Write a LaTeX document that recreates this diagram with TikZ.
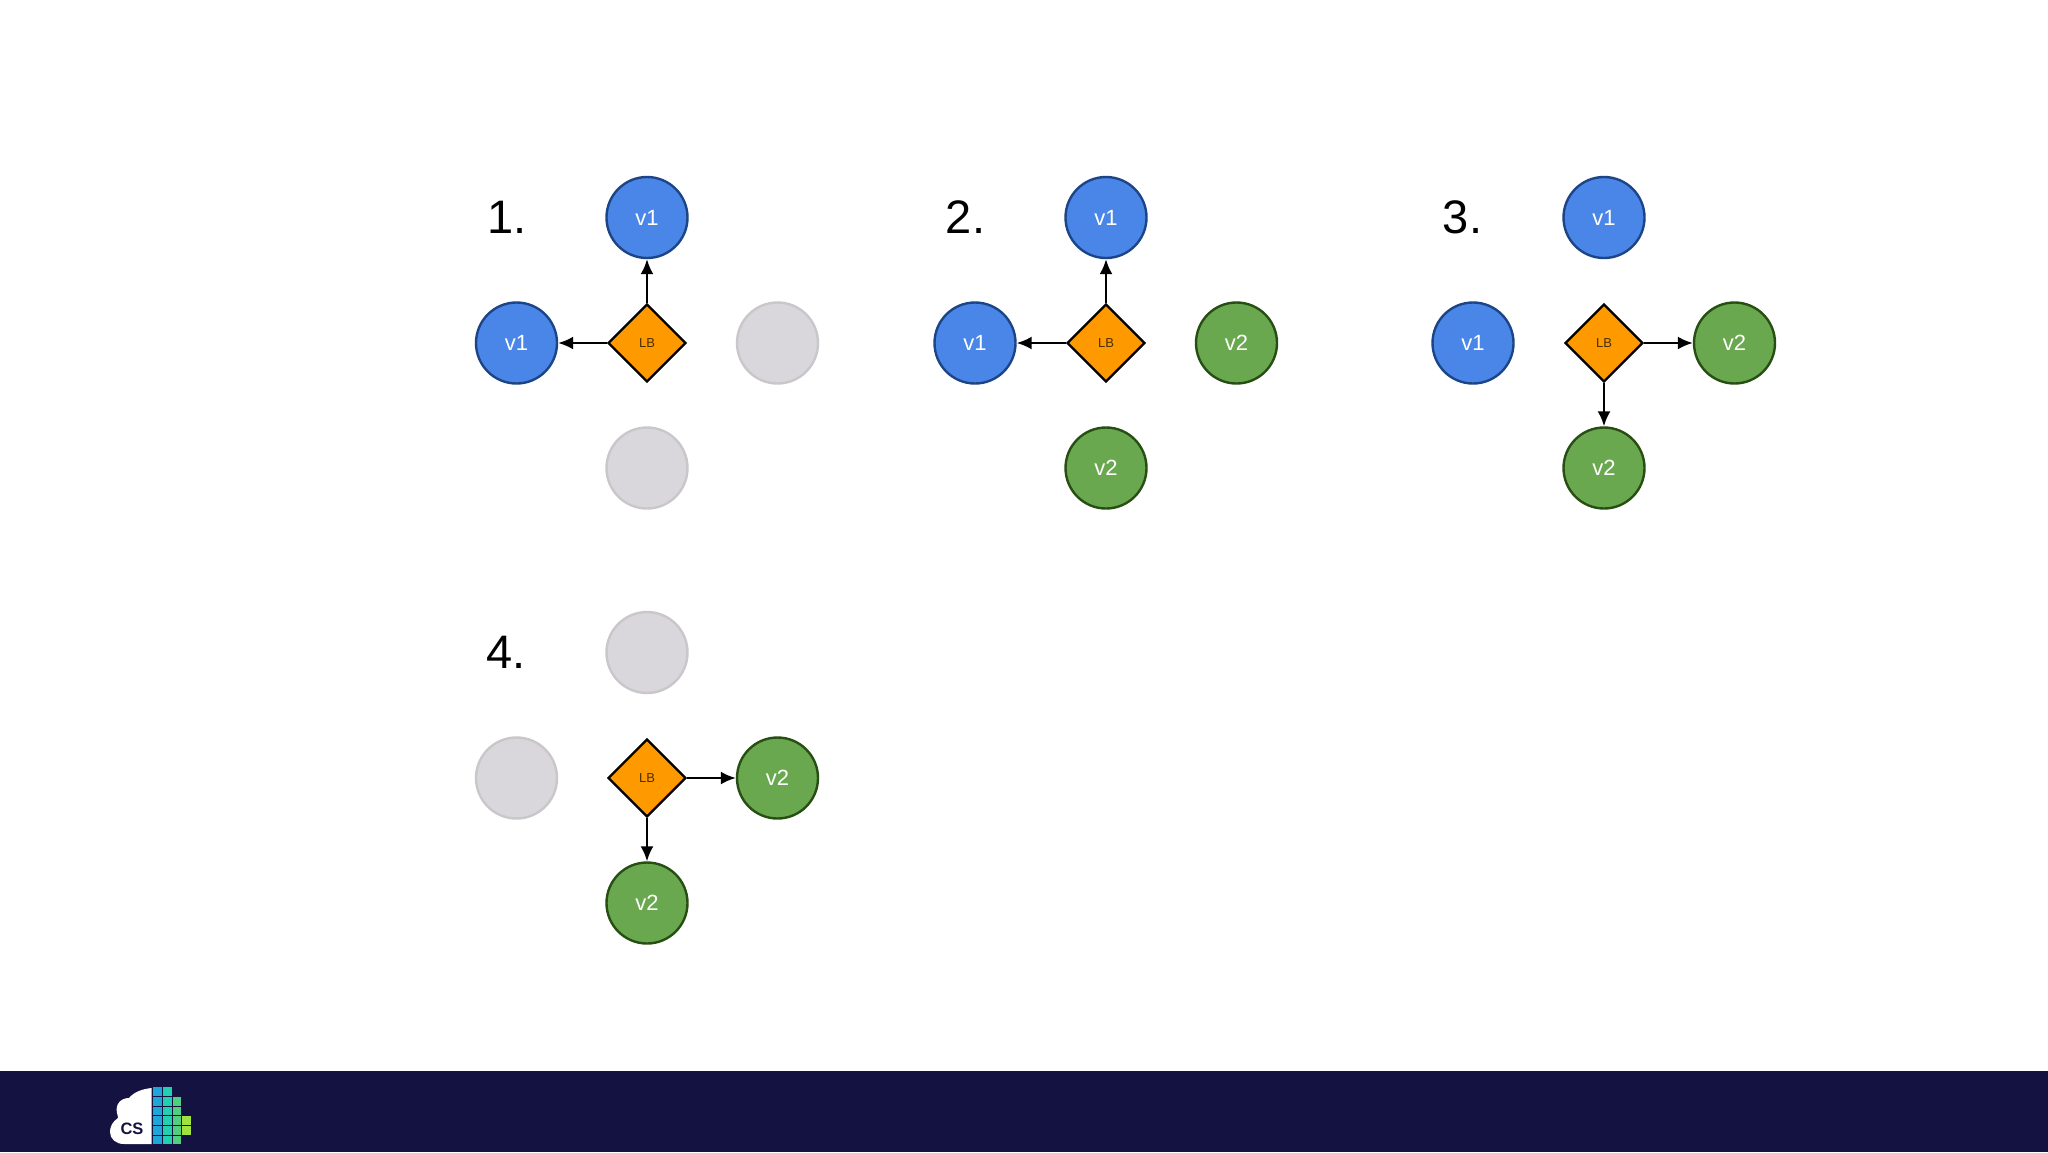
\documentclass[tikz,border=0pt]{standalone}
\usepackage{fontspec}
\setmainfont{Liberation Sans}
\usetikzlibrary{shapes.geometric,arrows.meta}
\definecolor{vone}{HTML}{4A86E8}
\definecolor{voneb}{HTML}{1C4587}
\definecolor{vtwo}{HTML}{6AA84F}
\definecolor{vtwob}{HTML}{274E13}
\definecolor{off}{HTML}{D9D7DB}
\definecolor{offb}{HTML}{C9C7CA}
\definecolor{lbf}{HTML}{FF9900}
\definecolor{band}{HTML}{141240}
\definecolor{sqa}{HTML}{1EA6D8}
\definecolor{sqb}{HTML}{22CFAE}
\definecolor{sqc}{HTML}{52CF7E}
\definecolor{sqd}{HTML}{A2E23E}
\tikzset{
  x=1pt,y=-1pt,
  srv/.style={circle,minimum size=81pt,inner sep=0pt,line width=2.4pt,font=\fontsize{22}{24}\selectfont,text=white},
  vo/.style={srv,fill=vone,draw=voneb},
  vt/.style={srv,fill=vtwo,draw=vtwob},
  idle/.style={srv,fill=off,draw=offb},
  lb/.style={diamond,minimum size=78pt,inner sep=0pt,fill=lbf,draw=black,line width=2.4pt,aspect=1,font=\fontsize{13}{14}\selectfont,text=black!70!lbf},
  num/.style={font=\fontsize{47}{52}\selectfont,text=black,inner sep=0pt},
  link/.style={-{Latex[length=15pt,width=13pt]},line width=2.2pt,black},
  sq/.style={minimum size=8.7pt,inner sep=0pt,anchor=center}
}
\begin{document}
\begin{tikzpicture}
\useasboundingbox (0,0) rectangle (2048,1152);
\fill[white] (0,0) rectangle (2048,1152);
\fill[band] (0,1071) rectangle (2048,1152);
% 1
\node[num] (n1) at (507,217) {1.};
\node[vo] (a1) at (647,217.5) {v1};
\node[vo] (a2) at (516.5,343) {v1};
\node[idle] (a3) at (777.5,343) {};
\node[idle] (a4) at (647,468) {};
\node[lb] (alb) at (647,343) {LB};
\draw[link] (alb) -- (a1);
\draw[link] (alb) -- (a2);
% 2
\node[num] (n2) at (965.5,217) {2.};
\node[vo] (b1) at (1106,217.5) {v1};
\node[vo] (b2) at (975,343) {v1};
\node[vt] (b3) at (1236.5,343) {v2};
\node[vt] (b4) at (1106,468) {v2};
\node[lb] (blb) at (1106,343) {LB};
\draw[link] (blb) -- (b1);
\draw[link] (blb) -- (b2);
% 3
\node[num] (n3) at (1462.5,217) {3.};
\node[vo] (c1) at (1604,217.5) {v1};
\node[vo] (c2) at (1473,343) {v1};
\node[vt] (c3) at (1734.5,343) {v2};
\node[vt] (c4) at (1604,468) {v2};
\node[lb] (clb) at (1604,343) {LB};
\draw[link] (clb) -- (c3);
\draw[link] (clb) -- (c4);
% 4
\node[num] (n4) at (506,652) {4.};
\node[idle] (d1) at (647,652.5) {};
\node[idle] (d2) at (516.5,778) {};
\node[vt] (d3) at (777.5,778) {v2};
\node[vt] (d4) at (647,903) {v2};
\node[lb] (dlb) at (647,778) {LB};
\draw[link] (dlb) -- (d3);
\draw[link] (dlb) -- (d4);
% logo
\fill[white] (151.7,1088) .. controls (142,1089) and (134,1092) .. (129,1098)
  .. controls (121,1098) and (115,1104) .. (117,1113)
  .. controls (118,1116) and (118,1117) .. (118,1118)
  .. controls (112,1122) and (110,1127) .. (110,1132)
  .. controls (110,1139) and (116,1144) .. (124,1144) -- (151.7,1144) -- cycle;
\node[font=\bfseries\fontsize{16.5}{18}\selectfont,text=band,inner sep=0pt] (logot) at (132,1129) {CS};
\foreach \y in {1091.7,1101.3,1111,1120.7,1130.3,1140} {
  \node[sq,fill=sqa] at (157.7,\y) {};
  \node[sq,fill=sqb] at (167.3,\y) {};
}
\foreach \y in {1101.3,1111,1120.7,1130.3,1140} \node[sq,fill=sqc] at (177,\y) {};
\foreach \y in {1120.7,1130.3} \node[sq,fill=sqd] at (186.7,\y) {};
\end{tikzpicture}
\end{document}
